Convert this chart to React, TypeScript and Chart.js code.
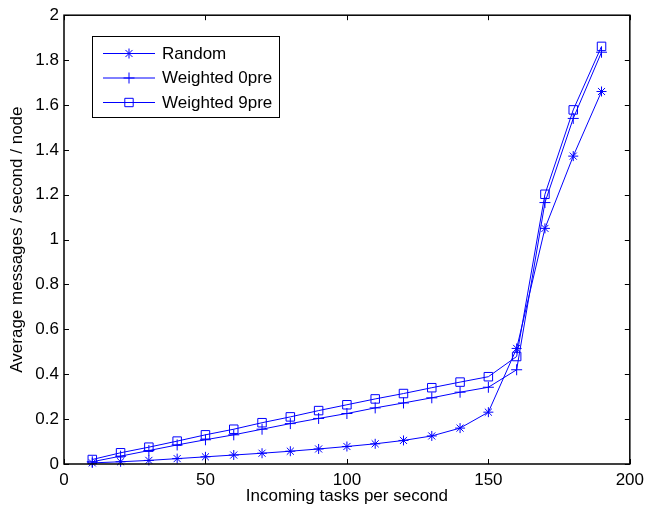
import React, { useEffect, useRef } from 'react';
import { Chart, registerables } from 'chart.js';

Chart.register(...registerables);

const xValues = [10, 20, 30, 40, 50, 60, 70, 80, 90, 100, 110, 120, 130, 140, 150, 160, 170, 180, 190];
const randomValues = [0.005, 0.01, 0.016, 0.024, 0.032, 0.04, 0.048, 0.057, 0.067, 0.078, 0.09, 0.105, 0.125, 0.16, 0.231, 0.515, 1.05, 1.372, 1.66];
const weighted0Values = [0.01, 0.035, 0.06, 0.085, 0.108, 0.13, 0.155, 0.18, 0.203, 0.225, 0.25, 0.272, 0.295, 0.32, 0.342, 0.42, 1.165, 1.54, 1.835];
const weighted9Values = [0.02, 0.05, 0.075, 0.102, 0.13, 0.155, 0.184, 0.21, 0.238, 0.264, 0.29, 0.314, 0.34, 0.365, 0.389, 0.479, 1.202, 1.578, 1.861];
const seriesLabels = ['Random', 'Weighted 0pre', 'Weighted 9pre'];
const xTicks = [0, 50, 100, 150, 200];
const yTicks = [0, 0.2, 0.4, 0.6, 0.8, 1, 1.2, 1.4, 1.6, 1.8, 2];
const yTickLabels = ['0', '0.2', '0.4', '0.6', '0.8', '1', '1.2', '1.4', '1.6', '1.8', '2'];
const xTitle = 'Incoming tasks per second';
const yTitle = 'Average messages / second / node';

const FONT = '"Liberation Sans", Arial, Helvetica, sans-serif';
const BLUE = '#0000ff';
const markerStyles = ['star', 'cross', 'rect'];

function drawMarker(ctx: CanvasRenderingContext2D, style: string, x: number, y: number) {
  ctx.beginPath();
  if (style === 'star') {
    const r = 5;
    const d = r * Math.SQRT1_2;
    ctx.moveTo(x - r, y); ctx.lineTo(x + r, y);
    ctx.moveTo(x, y - r); ctx.lineTo(x, y + r);
    ctx.moveTo(x - d, y - d); ctx.lineTo(x + d, y + d);
    ctx.moveTo(x - d, y + d); ctx.lineTo(x + d, y - d);
  } else if (style === 'cross') {
    const r = 5.5;
    ctx.moveTo(x - r, y); ctx.lineTo(x + r, y);
    ctx.moveTo(x, y - r); ctx.lineTo(x, y + r);
  } else {
    const s = 4.2;
    ctx.rect(x - s, y - s, 2 * s, 2 * s);
  }
  ctx.stroke();
}

const frameAndLegend = {
  id: 'frameAndLegend',
  afterDatasetsDraw(chart: any) {
    const { ctx, chartArea } = chart;
    const { left, right, top, bottom } = chartArea;
    const xs = chart.scales.x;
    const ys = chart.scales.y;
    ctx.save();
    ctx.strokeStyle = '#000';
    ctx.lineWidth = 1;
    const tl = 5;
    ctx.beginPath();
    for (const t of xTicks) {
      const px = Math.round(xs.getPixelForValue(t)) + 0.5;
      ctx.moveTo(px, bottom); ctx.lineTo(px, bottom - tl);
      ctx.moveTo(px, top); ctx.lineTo(px, top + tl);
    }
    for (const t of yTicks) {
      const py = Math.round(ys.getPixelForValue(t)) + 0.5;
      ctx.moveTo(left, py); ctx.lineTo(left + tl, py);
      ctx.moveTo(right, py); ctx.lineTo(right - tl, py);
    }
    ctx.stroke();
    ctx.lineWidth = 1.5;
    ctx.strokeRect(left, top, right - left, bottom - top);

    // legend
    const bx = 92, by = 36, bw = 187, bh = 81;
    ctx.fillStyle = '#fff';
    ctx.fillRect(bx, by, bw, bh);
    ctx.lineWidth = 1;
    ctx.strokeStyle = '#000';
    ctx.strokeRect(bx + 0.5, by + 0.5, bw, bh);
    const rows = [53, 77.5, 102];
    ctx.font = `17px ${FONT}`;
    ctx.textBaseline = 'middle';
    ctx.textAlign = 'left';
    seriesLabels.forEach((lab, i) => {
      const ry = rows[i];
      ctx.strokeStyle = BLUE;
      ctx.lineWidth = 1;
      ctx.beginPath();
      ctx.moveTo(103, ry + 0.5); ctx.lineTo(155, ry + 0.5);
      ctx.stroke();
      drawMarker(ctx, markerStyles[i], 129, ry + 0.5);
      ctx.fillStyle = '#000';
      ctx.fillText(lab, 162, ry + 1);
    });
    ctx.restore();
  },
};

export default function App() {
  const ref = useRef<HTMLCanvasElement>(null);
  useEffect(() => {
    document.body.style.margin = '0';
    const canvas = ref.current!;
    const mk = (label: string, data: number[], style: string, radius: number) => ({
      label,
      data: xValues.map((x, i) => ({ x, y: data[i] })),
      borderColor: BLUE,
      backgroundColor: 'rgba(0,0,0,0)',
      borderWidth: 1,
      pointStyle: style,
      pointRadius: radius,
      pointBorderColor: BLUE,
      pointBackgroundColor: 'rgba(0,0,0,0)',
      pointBorderWidth: 1,
      tension: 0,
      fill: false,
      clip: false,
    });
    const chart = new Chart(canvas, {
      type: 'line',
      data: {
        datasets: [
          mk(seriesLabels[0], randomValues, 'star', 5),
          mk(seriesLabels[1], weighted0Values, 'cross', 5.5),
          mk(seriesLabels[2], weighted9Values, 'rect', 6),
        ],
      },
      options: {
        responsive: false,
        animation: false,
        devicePixelRatio: 1,
        layout: { padding: { left: 0, top: 12, right: 17, bottom: 0 } },
        plugins: { legend: { display: false }, tooltip: { enabled: false } },
        scales: {
          x: {
            type: 'linear',
            min: 0,
            max: 200,
            afterFit: (s: any) => { s.height = 49; },
            afterBuildTicks: (s: any) => { s.ticks = xTicks.map((v) => ({ value: v })); },
            grid: { display: false, drawTicks: false },
            border: { display: false },
            ticks: { color: '#000', font: { family: FONT, size: 17 }, padding: 6, maxRotation: 0, callback: (v: any) => String(v) },
            title: { display: true, text: xTitle, color: '#000', font: { family: FONT, size: 17 }, padding: { top: 0, bottom: 6 } },
          },
          y: {
            type: 'linear',
            min: 0,
            max: 2,
            afterFit: (s: any) => { s.width = 64; },
            afterBuildTicks: (s: any) => { s.ticks = yTicks.map((v) => ({ value: v })); },
            grid: { display: false, drawTicks: false },
            border: { display: false },
            ticks: {
              color: '#000',
              font: { family: FONT, size: 17 },
              padding: 5,
              callback: (v: any) => {
                const i = yTicks.findIndex((t) => Math.abs(t - v) < 1e-9);
                return i >= 0 ? yTickLabels[i] : '';
              },
            },
            title: { display: true, text: yTitle, color: '#000', font: { family: FONT, size: 17 }, padding: { top: 7, bottom: 0 } },
          },
        },
      },
      plugins: [frameAndLegend],
    } as any);
    return () => chart.destroy();
  }, []);
  return (
    <div style={{ position: 'absolute', left: 0, top: 0, width: 650, height: 513, background: '#fff' }}>
      <canvas ref={ref} width={650} height={513} />
    </div>
  );
}
